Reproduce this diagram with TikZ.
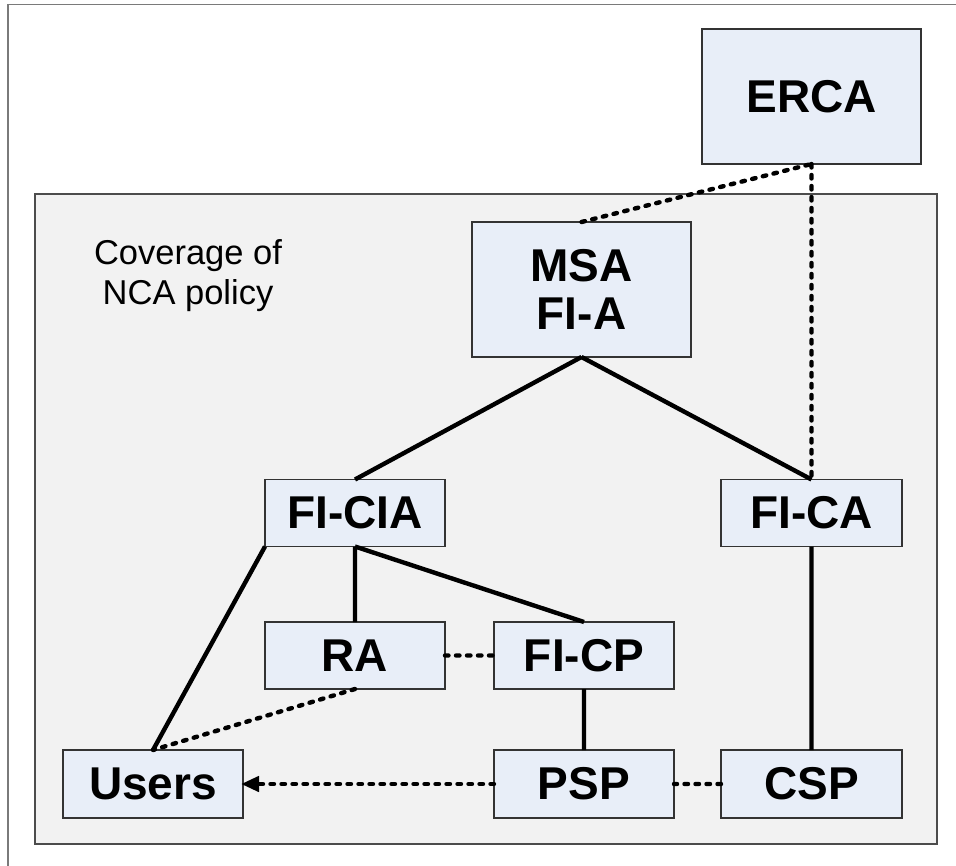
\documentclass[tikz,border=0pt]{standalone}
\usepackage{fontspec}
\setmainfont{Liberation Sans}
\usetikzlibrary{positioning,arrows.meta}

\definecolor{boxfill}{HTML}{E8EEF8}
\definecolor{areafill}{HTML}{F2F2F2}
\definecolor{framegray}{HTML}{7A7A7A}

\tikzset{
	pkibox/.style={draw=black!80, line width=1.2pt, fill=boxfill, inner sep=0pt, outer sep=0pt,
		minimum width=180pt, minimum height=67pt, align=center,
		font=\fontsize{46}{48}\selectfont\bfseries},
	solidlink/.style={line width=4.4pt, black},
	dashlink/.style={line width=4.4pt, black, line cap=round, dash pattern=on 3.5pt off 7.5pt},
}

\begin{document}
\begin{tikzpicture}[x=1pt, y=-1pt]

	\useasboundingbox (0,0) rectangle (956,866);

	\def\xL{153}
	\def\xM{355}
	\def\xN{584}
	\def\xR{811.5}

	% frame
	\draw [framegray, line width=1.5pt] (8,866) -- (8,4.5) -- (956,4.5);

	% NCA area
	\draw [draw=black!70, fill=areafill, line width=1.3pt] (35,194) rectangle (937,844);
	\node [inner sep=0pt, align=center, font=\fontsize{34.5}{40}\selectfont]
		(cover) at (188,276) {Coverage of\\NCA policy};

	% boxes
	\node [pkibox, minimum width=219pt, minimum height=135pt] (erca) at (\xR, 96.5) {ERCA};
	\node [pkibox, minimum width=219pt, minimum height=135pt] (msa) at (581.5, 289.5) {MSA\\FI-A};
	\node [pkibox] (ficia) at (\xM, 513) {FI-CIA};
	\node [pkibox, minimum width=181pt] (fica) at (\xR, 513) {FI-CA};
	\node [pkibox] (ra) at (\xM, 655.5) {RA};
	\node [pkibox] (ficp) at (\xN, 655.5) {FI-CP};
	\node [pkibox, minimum height=68pt] (users) at (\xL, 784) {Users};
	\node [pkibox, minimum height=68pt] (psp) at (\xN, 784) {PSP};
	\node [pkibox, minimum width=181pt, minimum height=68pt] (csp) at (\xR, 784) {CSP};

	% hierarchy
	\draw [solidlink]
		(msa.south) -- (ficia.north)
		(msa.south) -- (fica.north)
		(ficia.south west) -- (users.north)
		(ficia.south) -- (ra.north)
		(ficia.south) -- (ficp.north)
		(ficp.south) -- (psp.north)
		(fica.south) -- (csp.north)
		; % keep

	% agreements
	\draw [dashlink]
		(msa.north) -- (erca.south)
		(erca.south) -- (fica.north)
		(ra.east) -- (ficp.west)
		(ra.south) -- (users.north)
		(csp.west) -- (psp.east)
		; % keep
	\draw [dashlink, -{Triangle[length=18pt, width=15pt]}, shorten >=-2pt]
		(psp.west) -- (users.east);

\end{tikzpicture}
\end{document}
